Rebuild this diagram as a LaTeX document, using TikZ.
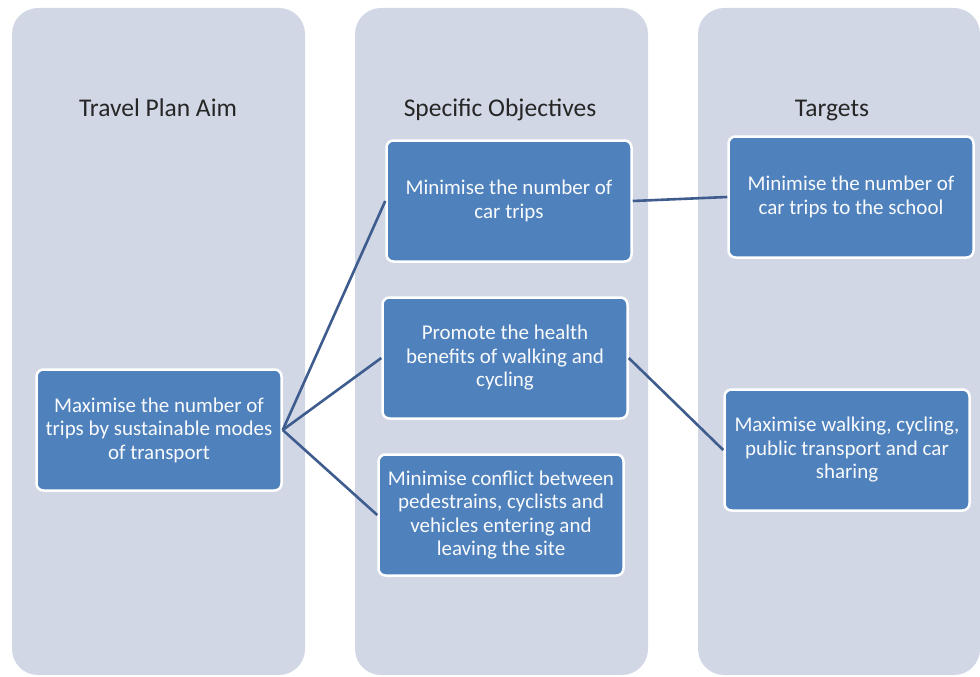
\documentclass[tikz,border=0pt]{standalone}
\usepackage{fontspec}
\setmainfont{Carlito}
\definecolor{colbg}{HTML}{D1D7E5}
\definecolor{boxbg}{HTML}{4F81BD}
\definecolor{linkc}{HTML}{3E5C8E}
\tikzset{
x=1pt, y=-1pt,
column/.style={fill=colbg, rounded corners=26pt, minimum width=293pt, minimum height=667pt, inner sep=0pt},
heading/.style={anchor=base, text=black!85, font=\fontsize{25.5}{30}\selectfont},
box/.style={fill=boxbg, draw=white, line width=2.5pt, rounded corners=7pt, text=white!96!boxbg,
  minimum width=245pt, minimum height=121pt, inner sep=2pt, align=center, font=\fontsize{21}{23.5}\selectfont},
link/.style={draw=linkc, line width=2.6pt},
}

\begin{document}
\begin{tikzpicture}
        \useasboundingbox (0,0) rectangle (980,677);
        \node[column] (c1) at (158.5,341.5) {};
        \node[column] (c2) at (501.5,341.5) {};
        \node[column,minimum width=282pt] (c3) at (839,341.5) {};

        \node[heading] (h1) at (158,116) {Travel Plan Aim};
        \node[heading] (h2) at (500,116) {Specific Objectives};
        \node[heading] (h3) at (832,116) {Targets};

        \node[box] (aim) at (159,430) {Maximise the number of\\trips by sustainable modes\\of transport};
        \node[box] (o1) at (509,201) {Minimise the number of\\car trips};
        \node[box] (o2) at (505,358) {Promote the health\\benefits of walking and\\cycling};
        \node[box] (o3) at (501,515) {Minimise conflict between\\pedestrains, cyclists and\\vehicles entering and\\leaving the site};
        \node[box] (t1) at (851,197) {Minimise the number of\\car trips to the school};
        \node[box] (t2) at (847,450) {Maximise walking, cycling,\\public transport and car\\sharing};

        \draw[link] (aim.east) edge (o1.west);
        \draw[link] (aim.east) edge (o2.west);
        \draw[link] (aim.east) edge (o3.west);
        \draw[link] (o1.east) edge (t1.west);
        \draw[link] (o2.east) edge (t2.west);
    \end{tikzpicture}
\end{document}
